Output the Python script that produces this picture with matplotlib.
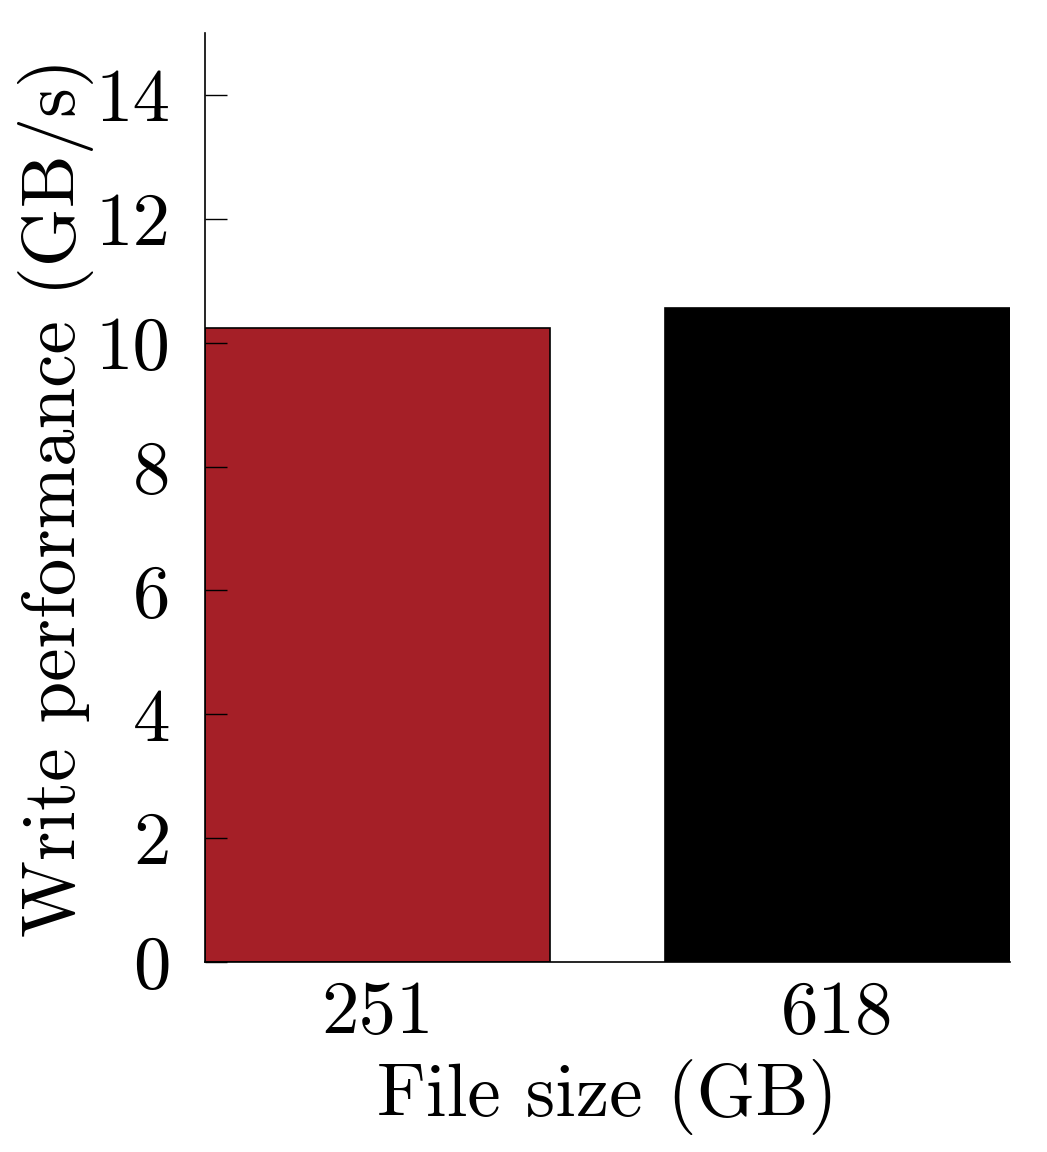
import matplotlib
matplotlib.use('Agg')
import matplotlib.pyplot as plt

# ---- data ----
file_sizes = ['251', '618']
write_perf = [10.24, 10.56]
bar_colors = ['#A51F27', '#000000']
y_ticks = [0, 2, 4, 6, 8, 10, 12, 14]

# ---- style ----
plt.rcParams['font.family'] = 'serif'
plt.rcParams['font.serif'] = ['cmr10']
plt.rcParams['mathtext.fontset'] = 'cm'
plt.rcParams['axes.unicode_minus'] = False

fig = plt.figure(figsize=(10.47, 11.52), dpi=100)
ax = fig.add_axes([205 / 1047, 1 - 962 / 1152, (1010 - 205) / 1047, (962 - 33) / 1152])

x = list(range(len(file_sizes)))
ax.bar(x, write_perf, width=0.75, color=bar_colors, edgecolor='black', linewidth=1.2)

ax.set_xlim(-0.375, 1.375)
ax.set_ylim(0, 15)
ax.set_yticks(y_ticks)
ax.set_yticklabels([str(t) for t in y_ticks])
ax.set_xticks(x)
ax.set_xticklabels(file_sizes)

ax.spines['top'].set_visible(False)
ax.spines['right'].set_visible(False)
ax.spines['left'].set_linewidth(1.2)
ax.spines['bottom'].set_linewidth(1.2)

ax.tick_params(axis='y', direction='in', length=16, width=1.0, pad=25, labelsize=54)
ax.tick_params(axis='x', length=0, pad=13, labelsize=54)

ax.set_xlabel('File size (GB)', fontsize=54, labelpad=8)
ax.set_ylabel('Write performance (GB/s)', fontsize=54, labelpad=1)

fig.savefig('out.png', dpi=100)
